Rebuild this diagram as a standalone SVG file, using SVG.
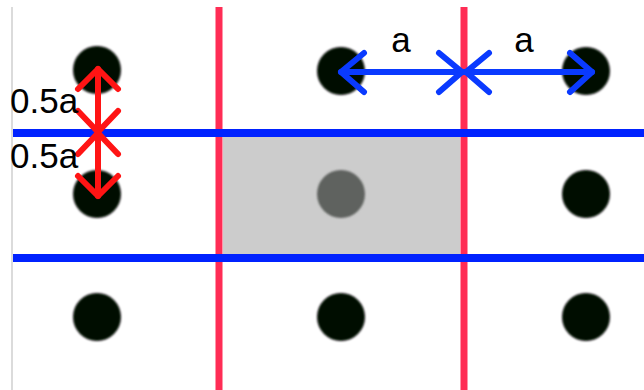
<svg xmlns="http://www.w3.org/2000/svg" width="644" height="390" viewBox="0 0 644 390">
<defs>
<filter id="blur" x="-20%" y="-20%" width="140%" height="140%"><feGaussianBlur stdDeviation="1"/></filter>
</defs>
<style>
.dot{fill:#020802;filter:url(#blur)}
.vline{stroke:#ff2d55;stroke-width:7;fill:none}
.hline{stroke:#0022ff;stroke-width:8;fill:none}
.ra{stroke:#ff1414;stroke-width:6;fill:none;stroke-linecap:round;stroke-linejoin:round}
.ba{stroke:#0a3aff;stroke-width:6;fill:none;stroke-linecap:round;stroke-linejoin:round}
.lbl{font-family:"Liberation Sans",Arial,sans-serif;font-size:35px;fill:#000}
</style>
<rect width="644" height="390" fill="#fff"/>
<line x1="12" y1="7" x2="12" y2="390" stroke="#cfcfcf" stroke-width="1.5"/>
<g id="cell"><rect x="223" y="137" width="237" height="117" fill="#cccccc"/></g>
<g id="grid">
<line class="vline" x1="219" y1="7" x2="219" y2="390"/>
<line class="vline" x1="464" y1="7" x2="464" y2="390"/>
<line class="hline" x1="13" y1="133" x2="644" y2="133"/>
<line class="hline" x1="13" y1="258" x2="644" y2="258"/>
</g>
<g id="dot-r1c1"><circle class="dot" cx="97" cy="70" r="24"/></g>
<g id="dot-r1c2"><circle class="dot" cx="341" cy="71" r="24"/></g>
<g id="dot-r1c3"><circle class="dot" cx="586" cy="71" r="24"/></g>
<g id="dot-r2c1"><circle class="dot" cx="97" cy="194" r="24"/></g>
<g id="dot-r2c2"><circle cx="341" cy="194" r="24" fill="#5f625f" filter="url(#blur)"/></g>
<g id="dot-r2c3"><circle class="dot" cx="586" cy="194" r="24"/></g>
<g id="dot-r3c1"><circle class="dot" cx="97" cy="317" r="24"/></g>
<g id="dot-r3c2"><circle class="dot" cx="341" cy="317" r="24"/></g>
<g id="dot-r3c3"><circle class="dot" cx="586" cy="317" r="24"/></g>
<g id="connectors">
<line class="ra" x1="98" y1="69" x2="98" y2="196"/>
<polyline class="ra" points="78,89 98,69 118,89"/>
<polyline class="ra" points="78,111 98,132 118,111"/>
<polyline class="ra" points="78,154 98,133 118,154"/>
<polyline class="ra" points="78,176 98,196 118,176"/>
<line class="ba" x1="341" y1="72" x2="592" y2="72"/>
<polyline class="ba" points="364,53 341,72 364,92"/>
<polyline class="ba" points="439,53 462,72 439,92"/>
<polyline class="ba" points="489,53 466,72 489,92"/>
<polyline class="ba" points="570,53 592,72 570,92"/>
</g>
<g id="labels">
<text class="lbl" x="10" y="113">0.5a</text>
<text class="lbl" x="10" y="168">0.5a</text>
<text class="lbl" x="401" y="52" text-anchor="middle">a</text>
<text class="lbl" x="524" y="52" text-anchor="middle">a</text>
</g>
</svg>
